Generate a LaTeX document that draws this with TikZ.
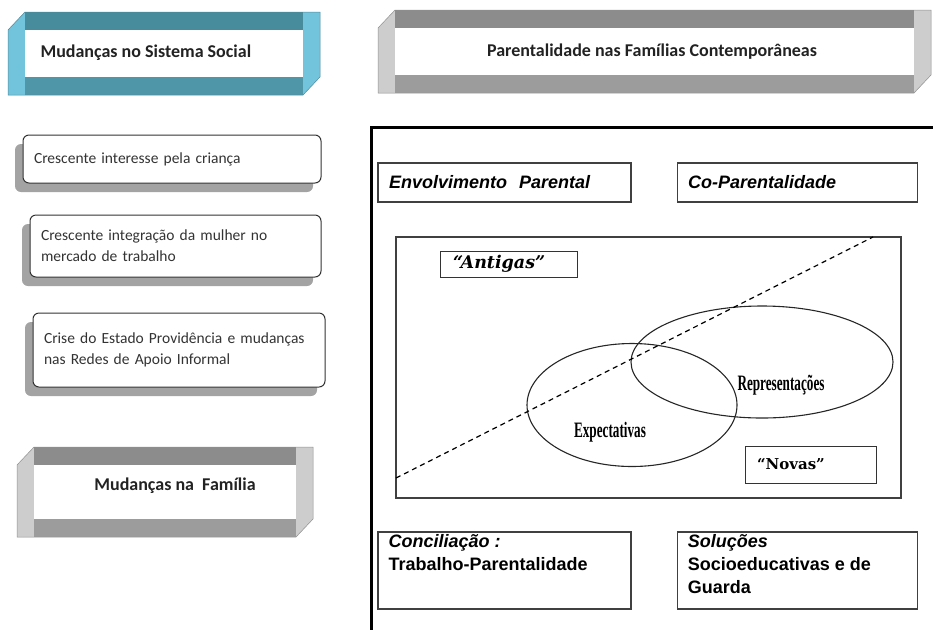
\documentclass[tikz,border=0pt]{standalone}
\usepackage{fontspec}
\usetikzlibrary{shapes.geometric,shadows,positioning}
\newfontfamily\calfont{Carlito}
\newfontfamily\arialfont{Liberation Sans}
\newfontfamily\condfont[FakeStretch=0.6]{Liberation Serif}
\newfontfamily\slabfont{DejaVu Serif}
\definecolor{tealtop}{HTML}{468C9C}
\definecolor{tealbot}{HTML}{4F96A8}
\definecolor{tealside}{HTML}{72C4DC}
\definecolor{greytop}{HTML}{8C8C8C}
\definecolor{greybot}{HTML}{9C9C9C}
\definecolor{greyside}{HTML}{CDCDCD}
\definecolor{ink}{HTML}{222222}
\tikzset{
  pics/bevel/.style n args={5}{code={
    \fill[#5] (0,18) -- (17,0) -- (#1,0) -- (#1,#2-18) -- (#1-17,#2) -- (0,#2) -- cycle;
    \fill[#3] (17,0) rectangle (#1-17,18);
    \fill[#4] (17,#2-18) rectangle (#1-17,#2);
    \fill[white] (17,18) rectangle (#1-17,#2-18);
    \draw[#5!70!black,line width=0.5pt] (0,18) -- (17,0) -- (#1,0) -- (#1,#2-18) -- (#1-17,#2) -- (0,#2) -- cycle;
  }},
  heading/.style={font={\calfont\bfseries\fontsize{18}{22}\selectfont},text=ink},
  trend/.style={draw=black!80,line width=1pt,rounded corners=6pt,fill=white,align=left,inner xsep=11pt,
    font={\calfont\fontsize{15.5}{21}\selectfont\hyphenpenalty=10000},text=black!80,
    drop shadow={shadow xshift=-8pt,shadow yshift=-9pt,fill=black!45,opacity=.8}},
  topic/.style={draw=black!75,line width=1.2pt,fill=white,align=left,inner xsep=11pt,minimum height=39pt,
    font={\arialfont\bfseries\fontsize{18}{23}\selectfont}},
  topictext/.style={align=left,inner sep=0pt,font={\arialfont\bfseries\fontsize{18}{23}\selectfont}},
  panel/.style={draw=black!75,line width=1.2pt},
  tag/.style={draw=black!80,line width=1pt,fill=white,align=left},
  circ/.style={ellipse,draw=black!85,line width=1.1pt,inner sep=0pt},
  lens/.style={font={\condfont\bfseries\fontsize{22}{26}\selectfont}},
  divide/.style={dash pattern=on 5pt off 4pt,line width=1.2pt},
  frame/.style={line width=3pt}
}

\begin{document}
\begin{tikzpicture}[x=1pt,y=-1pt]
\useasboundingbox (0,0) rectangle (933,630);

% left column
\pic at (8,12) {bevel={312}{83}{tealtop}{tealbot}{tealside}};
\node[heading,anchor=west] (social) at (37,53) {Mudanças no Sistema Social};

\node[trend,text width=276pt,minimum height=48pt] (interest) at (172,159) {Crescente interesse pela criança};
\node[trend,text width=269pt,minimum height=62pt] (women) at (175.5,246) {Crescente integração da mulher no\\mercado de trabalho};
\node[trend,text width=270pt,minimum height=74pt] (welfare) at (179,350) {Crise do Estado Providência e mudanças\\nas Redes de Apoio Informal};

\pic at (17,447) {bevel={296}{90}{greytop}{greybot}{greyside}};
\node[heading] (family) at (175,486) {Mudanças na\ \ Família};

% right column
\pic at (378,10) {bevel={553}{83}{greytop}{greybot}{greyside}};
\node[heading] (parenting) at (652,52) {Parentalidade nas Famílias Contemporâneas};

\coordinate (frameNE) at (933,127);
\coordinate (frameSW) at (371,630);
\draw[frame] (frameNE) -| (frameSW);

\node[topic,text width=231pt] (involve) at (504.5,182.5) {\itshape Envolvimento\ \ Parental};
\node[topic,text width=218pt,right=45pt of involve] (coparent) {\itshape Co-Parentalidade};

\node[panel,minimum width=505pt,minimum height=261pt] (inner) at (648.5,367.5) {};
\node[tag,minimum width=137pt,minimum height=26pt,inner xsep=13pt,text width=111pt,
  font={\slabfont\bfseries\itshape\fontsize{17.5}{20}\selectfont}] (old) at (508.5,264) {“Antigas”};
\node[tag,minimum width=131pt,minimum height=37pt,inner xsep=12pt,text width=107pt,
  font={\slabfont\bfseries\fontsize{15}{18}\selectfont}] (new) at (810.5,464.5) {“Novas”};

\node[circ,minimum width=210pt,minimum height=123pt] (expect) at (632,405) {};
\node[circ,minimum width=262pt,minimum height=112pt] (represent) at (762,362) {};
\node[lens] (expectlabel) at (610,432) {Expectativas};
\node[lens] (representlabel) at (781,385) {Representações};

\coordinate (divA) at (396,478);
\coordinate (divB) at (873,237);
\draw[divide] (divA) -- (divB);

\node[topic,minimum width=253pt,minimum height=77pt] (reconcile) at (504.5,570.5) {};
\node[topictext,anchor=north west] (reconciletext) at ([xshift=11pt,yshift=-3pt]reconcile.north west)
  {{\itshape Conciliação :}\\Trabalho-Parentalidade};
\node[topic,minimum width=240pt,minimum height=77pt,right=45pt of reconcile] (solutions) {};
\node[topictext,anchor=north west] (solutionstext) at ([xshift=11pt,yshift=-3pt]solutions.north west)
  {{\itshape Soluções}\\Socioeducativas e de\\Guarda};
\end{tikzpicture}
\end{document}
